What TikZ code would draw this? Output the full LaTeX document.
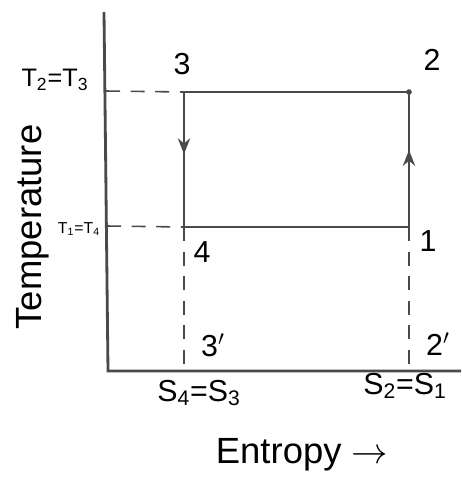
\documentclass[tikz,border=0pt]{standalone}
\usepackage{fontspec}
\setmainfont{Liberation Sans}
\usepackage{tikz}
\usetikzlibrary{arrows.meta, positioning, calc, decorations.markings}
\definecolor{pencil}{HTML}{4A4A4A}

\begin{document}
\begin{tikzpicture}[x=0.02cm,y=-0.02cm,font=\LARGE,
    line/.style={pencil,line width=1.1pt},
    guide/.style={pencil,line width=0.9pt,dash pattern=on 8pt off 6pt},
    flowdown/.style={postaction={decorate},decoration={markings,
      mark=at position 0.46 with {\arrow{Stealth[length=9pt,width=7pt]}}}},
    flowup/.style={postaction={decorate},decoration={markings,
      mark=at position 0.57 with {\arrow{Stealth[length=9pt,width=7pt]}}}}]
  \useasboundingbox (0,0) rectangle (461,484);

  % axes
  \coordinate (top) at (104,12);
  \coordinate (origin) at (108,371);
  \coordinate (xend) at (461,371);
  \draw[pencil,line width=1.6pt](top)--(origin)--(xend);

  % state points
  \coordinate (p1) at (409,227);
  \coordinate (p2) at (409,92);
  \coordinate (p3) at (184,92);
  \coordinate (p4) at (184,227);
  \coordinate (p2b) at (409,371);
  \coordinate (p3b) at (184,371);
  \coordinate (t23) at (106,91);
  \coordinate (t14) at (107,226);

  % cycle
  \draw[line](p3)--(p2);
  \draw[line,flowup](p1)--(p2);
  \draw[line,flowdown](p3)--(p4);
  \draw[line](p4)--(p1);
  \fill[pencil](p2) circle (1.6pt);

  % projections
  \draw[guide](t23)--(p3);
  \draw[guide](t14)--(p4);
  \draw[guide](p4)--(p3b);
  \draw[guide](p1)--(p2b);

  % point labels
  \node (l3) at (182,64){3};
  \node (l2) at (432,60){2};
  \node (l1) at (428,241){1};
  \node (l4) at (202,252){4};
  \node (l3b) at (213,345){3$'$};
  \node (l2b) at (438,344){2$'$};

  % axis labels
  \node[font=\Large,inner sep=0pt] (T23) at (55,80){T\textsubscript{2}=T\textsubscript{3}};
  \node[font=\small,inner sep=0pt] (T14) at (79,229){T\textsubscript{1}=T\textsubscript{4}};
  \node[rotate=90,font=\huge,inner sep=0pt] (temp) at (33,227){Temperature};
  \node[font=\LARGE] (S43) at (199,393){S\textsubscript{4}=S\textsubscript{3}};
  \node[font=\LARGE] (S21) at (405,386){S\textsubscript{2}=S\textsubscript{1}};
  \node[font=\huge] (ent) at (302,455){Entropy $\rightarrow$};
\end{tikzpicture}
\end{document}
